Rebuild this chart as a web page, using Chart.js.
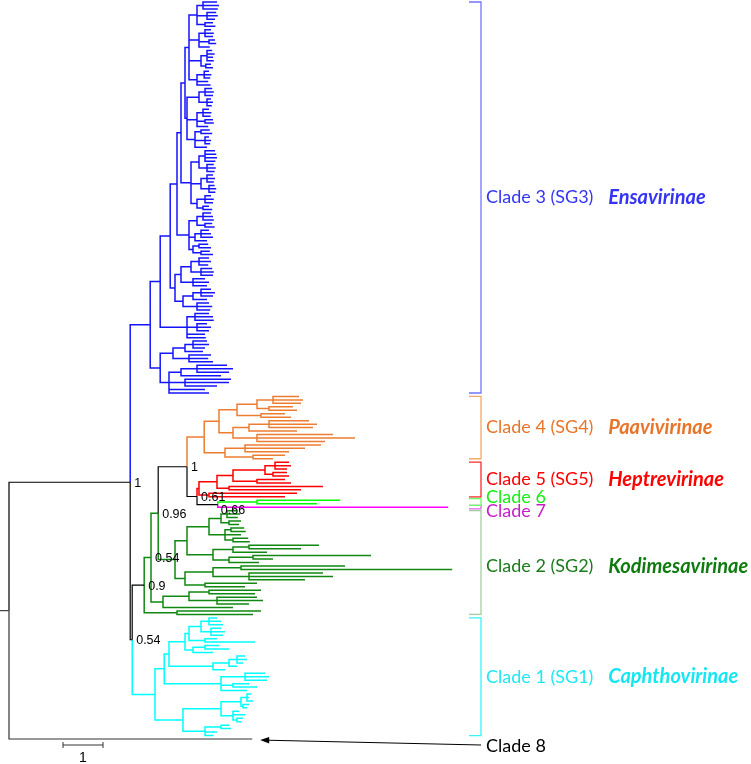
<!DOCTYPE html>
<html>
<head>
<meta charset="utf-8">
<script src="https://cdn.jsdelivr.net/npm/chart.js@4.4.1/dist/chart.umd.min.js"></script>
<style>
html, body { margin: 0; padding: 0; background: #fff; }
#wrap { width: 751px; height: 764px; }
</style>
</head>
<body>
<div id="wrap"><canvas id="tree" width="751" height="764"></canvas></div>
<script>
// Depths are distances from the root (scale bar = 1).
// A clade is [nodeDepth, child, child, ...]; a bare number is a tip depth.

const backboneNames = ["root", "core", "n054a", "n09", "n054b", "n096", "n1b", "n061", "n066"];
const backboneDepths = [0, 3.03, 3.08, 3.38, 3.55, 3.73, 4.45, 4.7, 5.22];
const supportValues = ["", "1", "0.54", "0.9", "0.54", "0.96", "1", "0.61", "0.66"];
const clade8Depth = 6.08;

const blueB1 = [4.5,
  [4.7, [4.85, 5.2, 5.25, 5.22], [4.95, 5.18, 5.22, 5.15], [4.9, 5.1, 5.16]],
  [4.75, [4.9, 5.05, 5.12, 5.1], [5.0, 5.15, 5.18], 5.02],
  [4.8, [4.95, 5.08, 5.14, 5.1, 5.12], [4.92, 5.05, 5.1]],
  [4.7, [4.88, 5.0, 5.06, 5.03], 4.98, 5.04]];
const blueB2 = [4.45,
  [4.75, [4.9, 5.08, 5.12, 5.1], [4.95, 5.05, 5.1, 5.07]],
  [4.7, [4.85, 5.0, 5.06, 5.04], [4.9, 5.1, 5.12], 4.98],
  [4.65, [4.8, 5.02, 5.08], [4.9, 5.0, 5.05, 5.03], 4.95]];
const blueB3 = [4.55,
  [4.75, [4.9, 5.15, 5.18, 5.2, 5.16], [4.95, 5.12, 5.17, 5.14]],
  [4.8, [4.95, 5.1, 5.15, 5.12], [5.0, 5.14, 5.18, 5.16]],
  [4.7, [4.9, 5.05, 5.12, 5.1], [4.85, 5.0, 5.08]]];
const blueB4 = [4.5,
  [4.7, [4.85, 5.05, 5.1, 5.12], [4.9, 5.08, 5.14]],
  [4.65, [4.8, 5.0, 5.05, 5.1], 4.95],
  [4.6, [4.75, 4.98, 5.05], [4.8, 5.02, 5.1]]];
const blueB5a = [4.15,
  [4.3, [4.55, [4.75, 5.0, 5.05, 4.98], [4.8, 5.08, 5.12, 5.1]], [4.6, 4.9, 5.0, 4.95]],
  [4.35, [4.6, [4.8, 5.05, 5.15, 5.1], 4.95], [4.7, 5.0, 5.08, 5.03]]];
const blueB5b = [4.45, [4.65, 5.0, 5.1, 5.12], [4.7, 4.95, 5.05, 5.0], 4.9, 4.92];
const blueB6 = [3.78,
  [4.1, [4.4, [4.6, 4.95, 5.0, 4.9], 4.85], [4.5, 5.05, 4.98, 5.1]],
  [4.0, [4.3, [4.7, 5.45, 5.6, 5.5], 5.3], [4.4, 5.55, 5.5, 5.2], 4.9, 5.0]];
// ladder: ((((((B1,B2),B3),B4),B5a),B5b),B6)
const blueClade = [3.53,
  [3.78, [4.03, [4.2, [4.3, [4.4, blueB1, blueB2], blueB3], blueB4], blueB5a], blueB5b],
  blueB6];

const orangeClade = [4.88,
  [5.25,
    [5.7, [6.2, [6.6, 7.25, 7.35, 7.3], [6.5, 7.1, 7.2]], [6.3, 6.9, 7.05]],
    [5.6, [6.0, [6.5, 7.5, 7.7, 7.6], 7.2], [6.2, 8.1, 8.65, 7.9]]],
  [5.4, [5.9, 7.8, 7.4, 7.0], [6.1, 6.9, 6.6]]];

const redClade = [4.75,
  [5.2,
    [5.6, [6.4, [6.65, 7.0, 7.05, 6.95], [6.6, 6.95, 7.0]], [6.2, 6.9, 7.05]],
    [5.5, 7.85, 7.3]],
  [5.0, 7.2, 6.9]];

const limeClade = [6.2, 8.28, 7.7];
const magentaClade = 10.98;

const greenG1 = [4.15,
  [4.45,
    [5.0, [5.3, [5.45, 5.7, 5.78, 5.72], [5.5, 5.8, 5.75]], [5.4, [5.55, 5.88, 5.92], 5.8, [5.6, 5.98, 6.02]]],
    [5.1, [5.6, [6.0, 7.75, 7.3], 6.45], [5.5, [6.1, 9.05, 6.6], 6.25]]],
  [4.4,
    [5.1, [5.8, 8.4, 11.08], [6.0, 7.85, 8.1, 7.4]],
    [4.9, 6.2, 5.9]]];
const greenG2 = [3.85, [4.5, [5.0, 6.3, 6.15], [5.2, 6.2, 6.35, 6.0]], 5.6];
const greenG3 = [4.2, 6.3, 6.1];

const cyanClade = [3.65,
  [3.88,
    [4.0,
      [4.4,
        [4.5, [4.8, [5.0, 5.2, 5.3, 5.35], [5.05, 5.3, 5.4, 5.35]], [4.9, 5.2, 6.15]],
        [4.6, [4.9, 5.25, 5.5], 5.1]],
      [5.1, [5.5, [5.7, 5.9, 5.95, 5.85], 5.7], 5.4]],
    [4.7, [5.3, [5.9, 6.4, 6.5, 6.45], [5.6, 6.0, 6.2], 5.95]]],
  [4.35,
    [5.3, [5.8, [5.95, 6.05, 6.0, 6.1], [5.85, 6.0, 5.95]], [5.6, 5.75, 5.9, [5.7, 5.85, 5.8]]],
    [4.9, [5.3, 5.5, 5.55], 5.2, 5.1]]];

const cladeKeys = ["blue", "orange", "red", "lime", "magenta", "green", "cyan", "clade8"];
const cladeLabels = ["Clade 3 (SG3)", "Clade 4 (SG4)", "Clade 5 (SG5)", "Clade 6", "Clade 7", "Clade 2 (SG2)", "Clade 1 (SG1)", "Clade 8"];
const subfamilyLabels = ["Ensavirinae", "Paavivirinae", "Heptrevirinae", "", "", "Kodimesavirinae", "Caphthovirinae", ""];
const scaleBarLength = 1;

// ---- styling ----
const branchColors = { blue: "#1414ff", orange: "#ed7d31", red: "#ff0000", lime: "#00ff00", magenta: "#ff00ff", green: "#118811", cyan: "#00ffff", clade8: "#333333", black: "#000000", root: "#444444" };
const bracketColors = { blue: "#7474ff", orange: "#f4a86a", red: "#ff2a2a", lime: "#66ff66", magenta: "#e466e4", green: "#9fd09f", cyan: "#33f4ff" };
const textColors = { blue: "#3434f4", orange: "#e8742a", red: "#ff0000", lime: "#14f014", magenta: "#c81ec8", green: "#1b7a1b", cyan: "#1ee8f2", clade8: "#000000" };
const italicColors = { blue: "#3434f4", orange: "#e8742a", red: "#ff0000", green: "#0f7a0f", cyan: "#14e6f2" };
const thinColors = [branchColors.black, branchColors.root, branchColors.clade8];

// ---- build tree ----
function fromArray(a, color, tag) {
  if (typeof a === "number") return { x: a, color, tag, children: [] };
  return { x: a[0], color, tag, children: a.slice(1).map(c => fromArray(c, color, tag)) };
}
function bb(i, color, children) {
  return { x: backboneDepths[i], color, support: supportValues[i], name: backboneNames[i], children };
}
const B = branchColors;
const tree = bb(0, B.root, [
  bb(1, B.black, [
    fromArray(blueClade, B.blue, "blue"),
    bb(2, B.black, [
      bb(3, B.black, [
        bb(4, B.green, [
          bb(5, B.green, [
            bb(6, B.black, [
              fromArray(orangeClade, B.orange, "orange"),
              bb(7, B.black, [
                fromArray(redClade, B.red, "red"),
                bb(8, B.black, [fromArray(limeClade, B.lime, "lime"), fromArray(magentaClade, B.magenta, "magenta")])
              ])
            ]),
            fromArray(greenG1, B.green, "green")
          ]),
          fromArray(greenG2, B.green, "green")
        ]),
        fromArray(greenG3, B.green, "green")
      ]),
      fromArray(cyanClade, B.cyan, "cyan")
    ])
  ]),
  fromArray(clade8Depth, B.clade8, "clade8")
]);

let leafCount = 0;
const ranges = {};
const supportNodes = [];
function place(n) {
  if (n.children.length === 0) {
    n.y = leafCount++;
    const r = ranges[n.tag] || (ranges[n.tag] = [n.y, n.y]);
    r[0] = Math.min(r[0], n.y); r[1] = Math.max(r[1], n.y);
    return;
  }
  n.children.forEach(place);
  n.y = (n.children[0].y + n.children[n.children.length - 1].y) / 2;
  if (n.support) supportNodes.push(n);
}
place(tree);

const segs = {};
function addPath(color, pts) {
  (segs[color] || (segs[color] = [])).push(...pts, { x: null, y: null });
}
function walk(n) {
  n.children.forEach(c => {
    addPath(c.color, [{ x: n.x, y: n.y }, { x: n.x, y: c.y }, { x: c.x, y: c.y }]);
    walk(c);
  });
}
const xMin = -0.225, xMax = xMin + 751 / 40;
addPath(B.root, [{ x: xMin, y: tree.y }, { x: tree.x, y: tree.y }]);
walk(tree);

// leaf spacing so the first tip sits at 2px and the last at 739px
const step = 737 / (leafCount - 1);
const yMin = -2 / step, yMax = yMin + 764 / step;
const bracketX = 11.8, tickLen = 0.3;

const datasets = Object.keys(segs).map(col => ({
  data: segs[col], borderColor: col, borderWidth: thinColors.includes(col) ? 1.2 : 1.5,
  pointRadius: 0, showLine: true, fill: false
}));
cladeKeys.slice(0, 7).forEach(k => {
  const [lo, hi] = ranges[k];
  const pad = (k === "lime" || k === "magenta") ? 0.5 : 0;
  datasets.push({
    data: [{ x: bracketX - tickLen, y: lo - pad }, { x: bracketX, y: lo - pad }, { x: bracketX, y: hi + pad }, { x: bracketX - tickLen, y: hi + pad }],
    borderColor: bracketColors[k], borderWidth: 1.3, pointRadius: 0, showLine: true, fill: false
  });
});

const labelDy = [0, 0, 0, -5, 4, 4, 0, 7];

const annotate = {
  id: "annotate",
  afterDatasetsDraw(chart) {
    const { ctx, scales: { x, y } } = chart;
    ctx.save();
    // support values
    ctx.fillStyle = "#000";
    ctx.textBaseline = "middle";
    ctx.textAlign = "left";
    ctx.font = '12.5px "Liberation Sans", Arial, sans-serif';
    supportNodes.forEach(n => {
      const dy = n.name === "n066" ? 6 : 1;
      const dx = n.name === "n066" ? 3 : 4;
      ctx.fillText(n.support, x.getPixelForValue(n.x) + dx, y.getPixelForValue(n.y) + dy);
    });
    // clade labels
    const lx = x.getPixelForValue(bracketX) + 5;
    const sx = x.getPixelForValue(14.98);
    cladeKeys.forEach((k, i) => {
      const [lo, hi] = ranges[k];
      const cy = y.getPixelForValue((lo + hi) / 2) + labelDy[i];
      ctx.font = '18px Lato, "Open Sans", sans-serif';
      ctx.fillStyle = textColors[k];
      ctx.fillText(cladeLabels[i], lx, cy);
      if (subfamilyLabels[i]) {
        ctx.font = 'italic bold 20px Lato, "Open Sans", sans-serif';
        ctx.fillStyle = italicColors[k];
        ctx.fillText(subfamilyLabels[i], sx, cy);
      }
    });
    // arrow to clade 8
    const c8y = y.getPixelForValue(ranges.clade8[0]);
    const tipX = x.getPixelForValue(clade8Depth) + 8;
    const x0 = x.getPixelForValue(bracketX), y0 = c8y + 6;
    const x1 = tipX, y1 = c8y + 1;
    ctx.strokeStyle = "#000";
    ctx.lineWidth = 1;
    ctx.beginPath(); ctx.moveTo(x0, y0); ctx.lineTo(x1 + 6, y1 + 0.2); ctx.stroke();
    ctx.fillStyle = "#000";
    ctx.beginPath(); ctx.moveTo(x1, y1); ctx.lineTo(x1 + 9, y1 - 3); ctx.lineTo(x1 + 9, y1 + 3.4); ctx.closePath(); ctx.fill();
    // scale bar
    const by = c8y + 6;
    const bx0 = x.getPixelForValue(1.35), bx1 = x.getPixelForValue(1.35 + scaleBarLength);
    ctx.strokeStyle = "#333";
    ctx.beginPath();
    ctx.moveTo(bx0, by); ctx.lineTo(bx1, by);
    ctx.moveTo(bx0, by - 3); ctx.lineTo(bx0, by + 3);
    ctx.moveTo(bx1, by - 3); ctx.lineTo(bx1, by + 3);
    ctx.stroke();
    ctx.fillStyle = "#000";
    ctx.textAlign = "center";
    ctx.font = '14px "Liberation Sans", Arial, sans-serif';
    ctx.fillText(String(scaleBarLength), (bx0 + bx1) / 2, by + 13);
    ctx.restore();
  }
};

new Chart(document.getElementById("tree"), {
  type: "scatter",
  data: { datasets },
  options: {
    responsive: false,
    devicePixelRatio: 1,
    animation: false,
    layout: { padding: 0 },
    scales: {
      x: { type: "linear", min: xMin, max: xMax, display: false },
      y: { type: "linear", reverse: true, min: yMin, max: yMax, display: false }
    },
    plugins: { legend: { display: false }, tooltip: { enabled: false } },
    elements: { line: { tension: 0 } }
  },
  plugins: [annotate]
});
</script>
</body>
</html>
